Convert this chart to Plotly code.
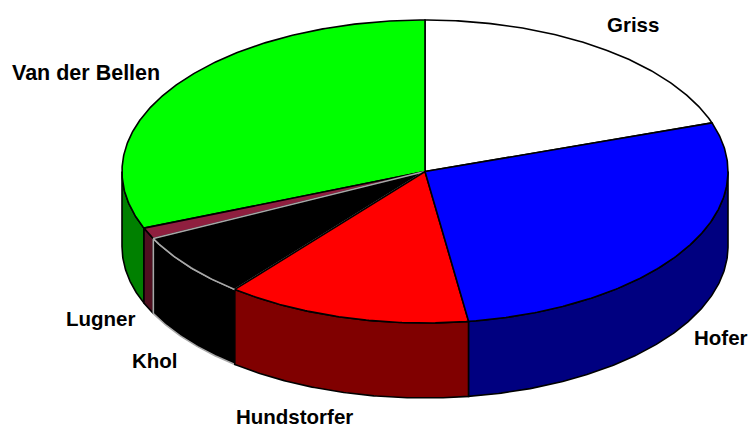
import numpy as np
import plotly.graph_objects as go

# data (clockwise from 12 o'clock)
names = ["Griss", "Hofer", "Hundstorfer", "Khol", "Lugner", "Van der Bellen"]
values = [19.8, 27.9, 13.1, 6.9, 1.2, 31.1]
top_colors = ["#ffffff", "#0000ff", "#ff0000", "#000000", "#8f1f3f", "#00ff00"]
side_colors = ["#808080", "#000080", "#800000", "#000000", "#4f1020", "#008000"]
edge_colors = ["#000000", "#000000", "#000000", "#a8a8a8", "#000000", "#000000"]

# geometry (pixels)
W, H = 751, 427
CX, CY, RX, RY, DEPTH = 425, 171.5, 303, 151.5, 75
label_xy = {
    "Griss": (633, 24), "Hofer": (721, 337), "Hundstorfer": (294, 416),
    "Khol": (155, 360), "Lugner": (100, 318), "Van der Bellen": (86, 73),
}
label_size = {"Van der Bellen": 21.5}

edges = np.concatenate([[0], np.cumsum(values)]) / sum(values) * 2 * np.pi


def rim(a, b):
    t = np.linspace(a, b, max(int((b - a) * 120), 2))
    return CX + RX * np.sin(t), CY - RY * np.cos(t)


fig = go.Figure()


def poly(x, y, fill, edge, width=1.6):
    fig.add_trace(go.Scatter(
        x=x, y=y, mode="lines", fill="toself", fillcolor=fill,
        line=dict(color=edge, width=width), hoverinfo="skip", showlegend=False,
    ))


# side walls, only the front half (pi/2 .. 3pi/2) is visible
for i in [5, 4, 3, 2, 1]:
    a = max(edges[i], np.pi / 2)
    b = min(edges[i + 1], 3 * np.pi / 2)
    if b <= a:
        continue
    xs, ys = rim(a, b)
    poly(np.r_[xs, xs[::-1], xs[0]], np.r_[ys, ys[::-1] + DEPTH, ys[0]],
         side_colors[i], edge_colors[i])

# top faces
for i in [0, 5, 4, 3, 2, 1]:
    xs, ys = rim(edges[i], edges[i + 1])
    poly(np.r_[CX, xs, CX], np.r_[CY, ys, CY], top_colors[i], edge_colors[i])

for n in names:
    x, y = label_xy[n]
    fig.add_annotation(x=x, y=y, text=f"<b>{n}</b>", showarrow=False,
                       font=dict(family="Liberation Sans", size=label_size.get(n, 20.5),
                                 color="#000000"))

fig.update_xaxes(range=[0, W], visible=False, fixedrange=True)
fig.update_yaxes(range=[H, 0], visible=False, fixedrange=True)
fig.update_layout(width=W, height=H, margin=dict(l=0, r=0, t=0, b=0),
                  paper_bgcolor="#ffffff", plot_bgcolor="#ffffff")
fig.write_html("out.html", config={"displayModeBar": False},
               post_script="document.body.style.margin='0';document.body.style.overflow='hidden';")
